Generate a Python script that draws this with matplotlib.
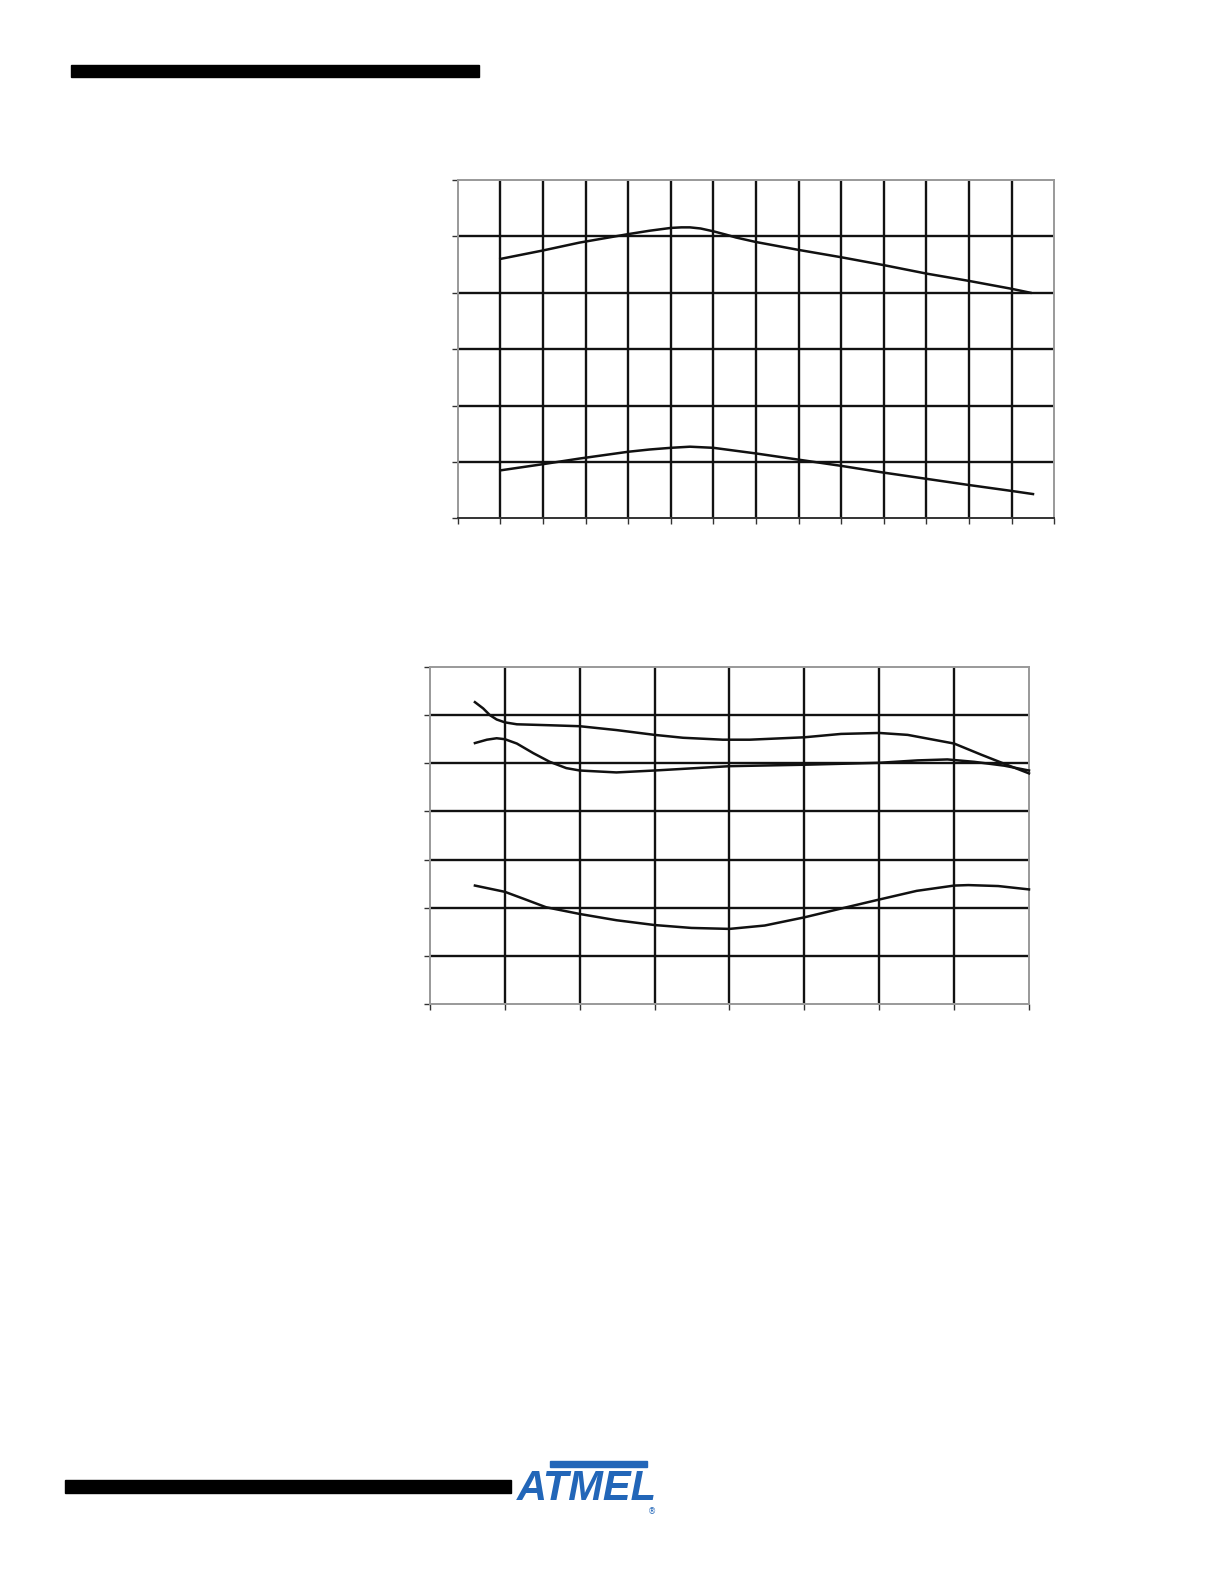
import matplotlib
matplotlib.use("Agg")
from matplotlib import pyplot as plt
from matplotlib import font_manager
from matplotlib.patches import Rectangle

# chart 1 (two curves, 14 x 6 grid)
c1_upper_x = [1.0, 2, 2.86, 4, 4.5, 5, 5.25, 5.45, 5.7, 6, 6.3, 6.53, 7, 8, 9, 10, 11, 12, 13, 13.44]
c1_upper_y = [4.60, 4.75, 4.89, 5.04, 5.10, 5.15, 5.16, 5.16, 5.14, 5.09, 5.03, 4.98, 4.90, 4.76, 4.63, 4.49, 4.34, 4.21, 4.07, 4.00]
c1_lower_x = [1, 2, 2.86, 4, 4.5, 5, 5.45, 6, 6.5, 7, 8, 9, 10, 11, 12, 13, 13.5]
c1_lower_y = [0.85, 0.96, 1.06, 1.18, 1.22, 1.25, 1.27, 1.25, 1.20, 1.15, 1.04, 0.93, 0.81, 0.70, 0.59, 0.485, 0.43]

# chart 2 (three curves, 8 x 7 grid)
c2_a_x = [0.6, 0.71, 0.8, 0.89, 1, 1.16, 1.6, 2, 2.49, 3, 3.38, 3.91, 4.27, 5, 5.49, 6, 6.38, 6.69, 7, 7.36, 7.67, 8]
c2_a_y = [6.27, 6.14, 6.0, 5.91, 5.85, 5.81, 5.79, 5.77, 5.69, 5.59, 5.53, 5.49, 5.49, 5.54, 5.61, 5.63, 5.59, 5.50, 5.41, 5.18, 4.99, 4.79]
c2_b_x = [0.6, 0.76, 0.89, 1, 1.16, 1.38, 1.6, 1.82, 2, 2.49, 3, 4, 5, 6, 6.51, 6.91, 7.27, 7.67, 8]
c2_b_y = [5.42, 5.49, 5.52, 5.50, 5.41, 5.21, 5.03, 4.90, 4.85, 4.81, 4.85, 4.94, 4.97, 5.01, 5.06, 5.08, 5.03, 4.95, 4.85]
c2_c_x = [0.6, 1, 1.26, 1.55, 2, 2.49, 3, 3.49, 4, 4.47, 5, 5.51, 6, 6.5, 7, 7.19, 7.59, 8]
c2_c_y = [2.46, 2.33, 2.18, 2.01, 1.87, 1.74, 1.64, 1.58, 1.56, 1.63, 1.80, 1.99, 2.17, 2.35, 2.46, 2.47, 2.45, 2.38]

W, H = 1224, 1584
fig = plt.figure(figsize=(W / 100, H / 100), dpi=100)


def px_rect(left, top, right, bottom):
    return [left / W, 1 - bottom / H, (right - left) / W, (bottom - top) / H]


def grid_axes(rect, nx, ny, bottom_col):
    ax = fig.add_axes(rect)
    ax.set_xlim(0, nx)
    ax.set_ylim(0, ny)
    ax.set_xticks(range(nx + 1))
    ax.set_yticks(range(ny + 1))
    ax.set_xticklabels([])
    ax.set_yticklabels([])
    ax.tick_params(direction='out', length=4, width=1, color='#333333')
    for v in range(1, nx):
        ax.axvline(v, color='#111111', lw=1.7, zorder=1)
    for v in range(1, ny):
        ax.axhline(v, color='#111111', lw=1.7, zorder=1)
    for s in ax.spines.values():
        s.set_color('#999999')
        s.set_linewidth(1.4)
    ax.spines['bottom'].set_color(bottom_col)
    return ax


ax1 = grid_axes(px_rect(457.7, 180, 1054.3, 518.3), 14, 6, '#333333')
for xs, ys in [(c1_upper_x, c1_upper_y), (c1_lower_x, c1_lower_y)]:
    ax1.plot(xs, ys, color='#111111', lw=1.8, zorder=3, solid_joinstyle='round')

ax2 = grid_axes(px_rect(430, 667, 1029, 1004), 8, 7, '#999999')
for xs, ys in [(c2_a_x, c2_a_y), (c2_b_x, c2_b_y), (c2_c_x, c2_c_y)]:
    ax2.plot(xs, ys, color='#111111', lw=1.8, zorder=3, clip_on=False, solid_joinstyle='round')

# page header / footer bars
fig.patches.append(Rectangle((70.7 / W, 1 - 77 / H), 408 / W, 12.5 / H,
                             transform=fig.transFigure, color='black'))
fig.patches.append(Rectangle((64.6 / W, 1 - 1493 / H), 446 / W, 13.5 / H,
                             transform=fig.transFigure, color='black'))

# logo
blue = '#2266b8'
names = {f.name for f in font_manager.fontManager.ttflist}
logo_font = 'Liberation Sans Narrow' if 'Liberation Sans Narrow' in names else 'Liberation Sans'
fig.patches.append(Rectangle((550 / W, 1 - 1467 / H), 97 / W, 6.5 / H,
                             transform=fig.transFigure, color=blue))
fig.text(587 / W, 1 - 1489 / H, 'ATMEL', color=blue, fontsize=30, fontweight='bold',
         fontstyle='italic', ha='center', va='center', family=logo_font)
fig.text(652 / W, 1 - 1512 / H, '®', color=blue, fontsize=6, ha='center', va='center')

fig.savefig('out.png', dpi=100)
